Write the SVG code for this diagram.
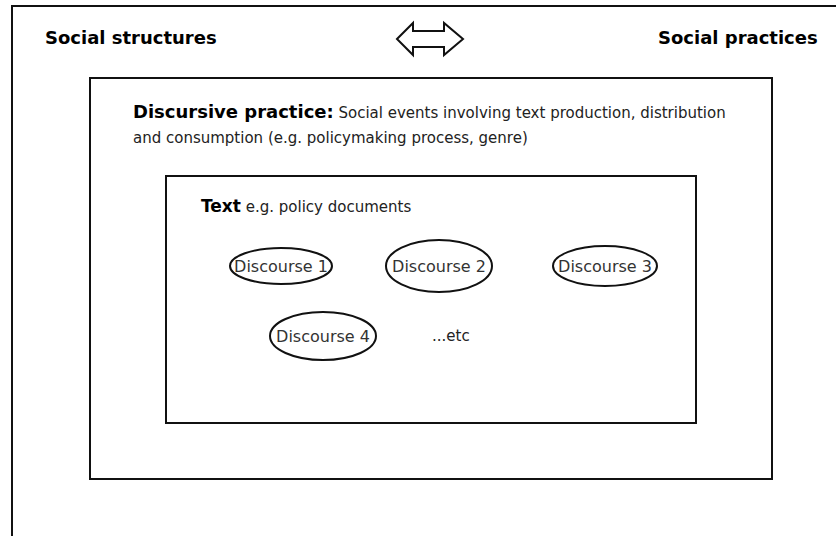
<svg xmlns="http://www.w3.org/2000/svg" width="836" height="536" viewBox="0 0 836 536">
  <style>
    .box { fill: none; stroke: #111; stroke-width: 2; }
    .ell { fill: #fff; stroke: #111; stroke-width: 2; }
    .title { font-family: "DejaVu Sans", "Liberation Sans", sans-serif; font-weight: bold; font-size: 18px; fill: #000; }
    .bold { font-family: "DejaVu Sans", "Liberation Sans", sans-serif; font-weight: bold; fill: #000; }
    .reg { font-family: "DejaVu Sans", "Liberation Sans", sans-serif; font-size: 15px; fill: #222; }
    .disc { font-family: "DejaVu Sans", "Liberation Sans", sans-serif; font-size: 16px; fill: #333; text-anchor: middle; }
  </style>
  <rect width="836" height="536" fill="#fff"/>
  <g id="frame">
    <path d="M12 536 V6 H836" fill="none" stroke="#111" stroke-width="2"/>
  </g>
  <g id="social-structures">
    <text class="title" x="45" y="44">Social structures</text>
  </g>
  <g id="social-practices">
    <text class="title" x="658" y="44">Social practices</text>
  </g>
  <g id="connectors">
    <polygon points="397,39 413,23 413,31 444,31 444,23 463,39 444,55 444,47 413,47 413,55" fill="#fff" stroke="#111" stroke-width="2" stroke-linejoin="miter"/>
  </g>
  <g id="discursive-practice">
    <rect class="box" x="90" y="78" width="682" height="401"/>
    <text x="133" y="118"><tspan class="bold" font-size="18">Discursive practice:</tspan><tspan class="reg"> Social events involving text production, distribution</tspan></text>
    <text class="reg" x="133" y="143">and consumption (e.g. policymaking process, genre)</text>
  </g>
  <g id="text">
    <rect class="box" x="166" y="176" width="530" height="247"/>
    <text x="201" y="212"><tspan class="bold" font-size="17">Text</tspan><tspan class="reg" font-size="15.3"> e.g. policy documents</tspan></text>
  </g>
  <g id="discourse-1">
    <ellipse class="ell" cx="281" cy="266" rx="51" ry="18"/>
    <text class="disc" x="281" y="271.5">Discourse 1</text>
  </g>
  <g id="discourse-2">
    <ellipse class="ell" cx="439" cy="266" rx="53" ry="26"/>
    <text class="disc" x="439" y="271.5">Discourse 2</text>
  </g>
  <g id="discourse-3">
    <ellipse class="ell" cx="605" cy="266" rx="52" ry="20"/>
    <text class="disc" x="605" y="271.5">Discourse 3</text>
  </g>
  <g id="discourse-4">
    <ellipse class="ell" cx="323" cy="336" rx="53" ry="24"/>
    <text class="disc" x="323" y="341.5">Discourse 4</text>
  </g>
  <g id="etc">
    <text class="reg" x="432" y="341" font-size="15">...etc</text>
  </g>
</svg>
